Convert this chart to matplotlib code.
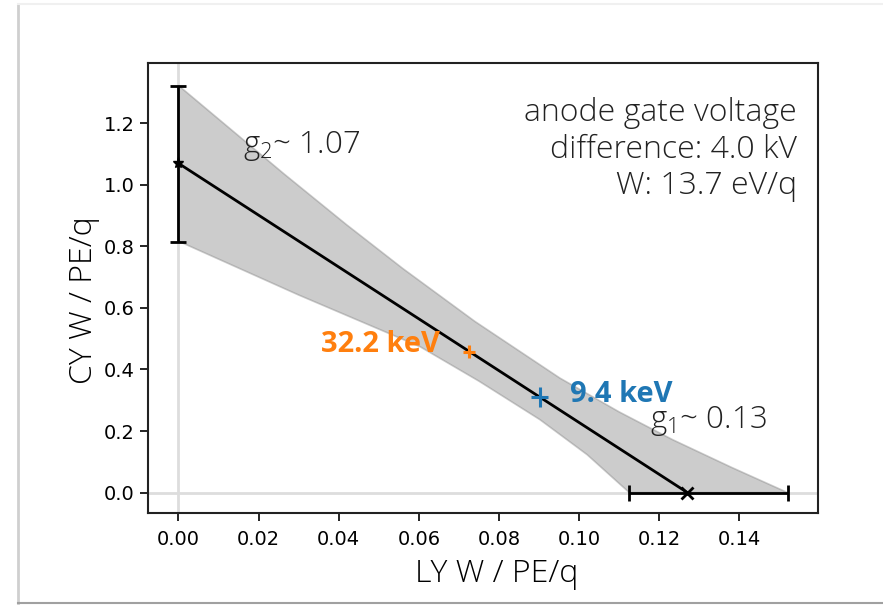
import numpy as np
import matplotlib
matplotlib.use("Agg")
import matplotlib.pyplot as plt
from matplotlib.lines import Line2D

plt.rcParams["mathtext.fontset"] = "custom"
plt.rcParams["mathtext.rm"] = "Open Sans:light"

# fitted line: CY = g2 * (1 - LY / LY0)
g2 = 1.07
g2_err = [0.255, 0.25]
ly0 = 0.127
ly0_err = [0.0145, 0.025]
g1_text = "0.13"

# uncertainty band edges
band_up_x = [0.0, 0.0264, 0.0420, 0.0560, 0.0740, 0.0952, 0.1100, 0.1233, 0.1380, 0.152]
band_up_y = [1.323, 1.035, 0.870, 0.728, 0.556, 0.372, 0.262, 0.172, 0.082, 0.0]
band_lo_x = [0.0, 0.0300, 0.0603, 0.0750, 0.0902, 0.1020, 0.1125]
band_lo_y = [0.817, 0.642, 0.474, 0.362, 0.237, 0.123, 0.0]

# calibration points
pt_labels = ["32.2 keV", "9.4 keV"]
pt_x = [0.0725, 0.0902]
pt_y = [0.457, 0.311]
pt_xerr = [0.0016, 0.0021]
pt_yerr = [0.021, 0.032]
pt_colors = ["#ff7f0e", "#1f77b4"]

fig = plt.figure(figsize=(8.83, 6.05), dpi=100)
ax = fig.add_axes([0.1676, 0.152, 0.7588, 0.7439])

# card border
fig.add_artist(Line2D([18 / 883, 18 / 883], [2 / 605, 601 / 605], transform=fig.transFigure, color="#cfcfcf", lw=2))
fig.add_artist(Line2D([18 / 883, 1], [2 / 605, 2 / 605], transform=fig.transFigure, color="#a0a0a0", lw=1.5))
fig.add_artist(Line2D([18 / 883, 1], [601 / 605, 601 / 605], transform=fig.transFigure, color="#f0f0f0", lw=1.5))

ax.axhline(0, color="#dddddd", lw=2, zorder=0)
ax.axvline(0, color="#dddddd", lw=2, zorder=0)

poly_x = band_up_x + band_lo_x[::-1]
poly_y = band_up_y + band_lo_y[::-1]
ax.fill(poly_x, poly_y, facecolor="gray", edgecolor="gray", alpha=0.4, lw=1.2)

ax.plot([0, ly0], [g2, 0], color="black", lw=2)
ax.errorbar([0], [g2], yerr=[[g2_err[0]], [g2_err[1]]], fmt="*", color="black",
            ms=8, capsize=6, elinewidth=2, capthick=2)
ax.errorbar([ly0], [0], xerr=[[ly0_err[0]], [ly0_err[1]]], fmt="x", color="black",
            ms=8, mew=2, capsize=6, elinewidth=2, capthick=2)

for i in range(len(pt_x)):
    ax.errorbar([pt_x[i]], [pt_y[i]], xerr=[pt_xerr[i]], yerr=[pt_yerr[i]], fmt=".",
                ms=4, color=pt_colors[i], elinewidth=2.2, capsize=0, zorder=5)

ax.text(0.0653, 0.48, pt_labels[0], color=pt_colors[0], fontsize=21, fontweight="bold",
        family="Open Sans", ha="right", va="center")
ax.text(0.0977, 0.32, pt_labels[1], color=pt_colors[1], fontsize=21, fontweight="bold",
        family="Open Sans", ha="left", va="center")

ax.text(0.0162, 1.125, r"$\mathrm{g_2}$~ " + str(g2), fontsize=22.5, family="Open Sans",
        fontweight="light", ha="left", va="center", color="#222222")
ax.text(0.1176, 0.232, r"$\mathrm{g_1}$~ " + g1_text, fontsize=22.5, family="Open Sans",
        fontweight="light", ha="left", va="center", color="#222222")

ax.text(0.969, 0.925, "anode gate voltage\ndifference: 4.0 kV\nW: 13.7 eV/q", transform=ax.transAxes,
        fontsize=23, family="Open Sans", fontweight="light", ha="right", va="top",
        multialignment="right", color="#222222", linespacing=1.2)

ax.set_xlabel("LY W / PE/q", fontsize=23, family="Open Sans", fontweight="light")
ax.set_ylabel("CY W / PE/q", fontsize=23, family="Open Sans", fontweight="light")
ax.xaxis.set_label_coords(0.52, -0.1)
ax.yaxis.set_label_coords(-0.072, 0.473)
ax.set_xticks(np.arange(0, 0.141, 0.02))
ax.set_yticks(np.arange(0, 1.21, 0.2))
ax.tick_params(labelsize=14, width=1.2, length=6)
ax.tick_params(axis="x", pad=6)
for s in ax.spines.values():
    s.set_linewidth(1.5)
    s.set_color("#222222")
ax.set_xlim(-0.0076, 0.1596)
ax.set_ylim(-0.0665, 1.396)

fig.savefig("out.png", dpi=100)
